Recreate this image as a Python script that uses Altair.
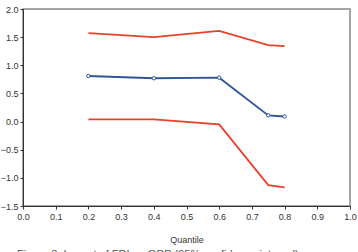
import altair as alt
import pandas as pd

quantiles = [0.2, 0.4, 0.6, 0.75, 0.8]
estimate = [0.81, 0.77, 0.78, 0.11, 0.09]
upper = [1.57, 1.50, 1.61, 1.36, 1.34]
lower = [0.04, 0.04, -0.05, -1.13, -1.17]
caption = "Figure 3: Impact of FDI on GDP (95% confidence interval)"

df = pd.DataFrame({"q": quantiles, "est": estimate, "up": upper, "lo": lower})

xaxis = alt.Axis(values=[round(i / 10, 1) for i in range(11)], format=".1f",
                 title="Quantile", grid=False, tickSize=3,
                 labelFontSize=9, titleFontSize=9, titleFontWeight="normal",
                 labelColor="#333", titleColor="#333", domainColor="#333",
                 tickColor="#333", labelPadding=3, titlePadding=14,
                 labelOverlap=False, labelFlush=False,
                 labelFont="Liberation Sans", titleFont="Liberation Sans")
yaxis = alt.Axis(values=[-1.5, -1.0, -0.5, 0.0, 0.5, 1.0, 1.5, 2.0], format=".1f",
                 title=None, grid=False, tickSize=3, labelFontSize=9,
                 labelColor="#333", domainColor="#333", tickColor="#333",
                 labelPadding=2, labelOverlap=False, labelFlush=False,
                 labelFont="Liberation Sans")
xscale = alt.Scale(domain=[0, 1], nice=False, zero=False)
yscale = alt.Scale(domain=[-1.5, 2.0], nice=False, zero=False)

def X():
    return alt.X("q:Q", scale=xscale, axis=xaxis)

def Y(f):
    return alt.Y(f + ":Q", scale=yscale, axis=yaxis)

base = alt.Chart(df)
up_line = base.mark_line(color="#e8402a", strokeWidth=1.8).encode(x=X(), y=Y("up"))
lo_line = base.mark_line(color="#e8402a", strokeWidth=1.8).encode(x=X(), y=Y("lo"))
est_line = base.mark_line(color="#2f5597", strokeWidth=1.8,
                          point=alt.OverlayMarkDef(filled=True, fill="white", stroke="#2f5597",
                                                   strokeWidth=1, size=12)).encode(x=X(), y=Y("est"))
cap = alt.Chart(pd.DataFrame({"t": [caption]})).mark_text(
    align="left", baseline="top", fontSize=11, color="#555", font="Liberation Sans"
).encode(x=alt.value(-6), y=alt.value(240), text="t:N")

chart = alt.layer(up_line, lo_line, est_line, cap).properties(
    width=327, height=197,
    autosize=alt.AutoSizeParams(type="none"),
    padding={"left": 23, "top": 9, "right": 8, "bottom": 46},
    background="white",
).configure_view(stroke="#888", strokeWidth=1.5).configure_axis(labelOverlap=False)

chart.save("out.html", embed_options={"renderer": "svg", "actions": False})
